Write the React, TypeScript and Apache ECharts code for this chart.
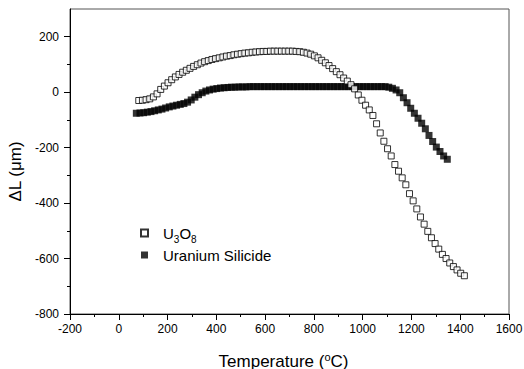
import React, { useEffect, useRef } from "react";
import * as echarts from "echarts";

const uTemp = [
  82, 97, 112, 127, 142, 157, 172, 187, 202, 217,
  232, 247, 262, 277, 292, 307, 322, 337, 352, 367,
  382, 397, 412, 427, 442, 457, 472, 487, 502, 517,
  532, 547, 562, 577, 592, 607, 622, 637, 652, 667,
  682, 697, 712, 727, 742, 757, 772, 787, 802, 817,
  832, 847, 862, 877, 892, 907, 922, 937, 952, 967,
  982, 997, 1012, 1027, 1042, 1057, 1072, 1087, 1102, 1117,
  1132, 1147, 1162, 1177, 1192, 1207, 1222, 1237, 1252, 1267,
  1282, 1297, 1312, 1327, 1342, 1357, 1372, 1387, 1402, 1417,
];
const uDL = [
  -30, -29, -27, -24, -17, -6, 10, 22, 34, 45,
  55, 64, 72, 79, 86, 93, 99, 105, 110, 114,
  118, 121, 124, 127, 130, 132, 135, 137, 139, 141,
  142, 144, 145, 146, 147, 147, 148, 148, 148, 148,
  148, 148, 148, 147, 146, 144, 141, 137, 131, 124,
  115, 106, 96, 85, 74, 63, 51, 40, 27, 12,
  -10, -29, -47, -64, -84, -114, -147, -177, -204, -230,
  -261, -285, -309, -334, -366, -392, -421, -450, -476, -502,
  -525, -546, -566, -585, -600, -616, -629, -641, -653, -662,
];
const sTemp = [
  72, 87, 102, 117, 132, 147, 162, 177, 192, 207,
  222, 237, 252, 267, 282, 297, 312, 327, 342, 357,
  372, 387, 402, 417, 432, 447, 462, 477, 492, 507,
  522, 537, 552, 567, 582, 597, 612, 627, 642, 657,
  672, 687, 702, 717, 732, 747, 762, 777, 792, 807,
  822, 837, 852, 867, 882, 897, 912, 927, 942, 957,
  972, 987, 1002, 1017, 1032, 1047, 1062, 1077, 1092, 1107,
  1122, 1137, 1152, 1167, 1182, 1197, 1212, 1227, 1242, 1257,
  1272, 1287, 1302, 1317, 1332, 1347,
];
const sDL = [
  -76, -75, -74, -72, -70, -67, -64, -61, -57, -53,
  -50, -47, -44, -41, -36, -28, -18, -9, -2, 4,
  8, 11, 13, 15, 16, 17, 18, 18, 19, 19,
  19, 20, 20, 20, 20, 20, 20, 20, 20, 20,
  20, 20, 20, 20, 20, 20, 20, 20, 20, 20,
  20, 20, 20, 20, 20, 20, 20, 20, 20, 20,
  20, 20, 20, 20, 20, 20, 20, 20, 20, 18,
  14, 8, -2, -20, -38, -58, -76, -94, -112, -132,
  -156, -178, -198, -214, -230, -242,
];
const yMajorTicks = [-800, -600, -400, -200, 0, 200];
const seriesNames = ["U3O8", "Uranium Silicide"];

const FONT = '"Liberation Sans", Arial, sans-serif';

export default function App() {
  const ref = useRef<HTMLDivElement>(null);
  useEffect(() => {
    if (!ref.current) return;
    const chart = echarts.init(ref.current, null, { renderer: "svg" });
    chart.setOption({
      animation: false,
      backgroundColor: "#fff",
      grid: {
        left: 70,
        right: 15,
        top: 9,
        bottom: 55,
        outerBoundsMode: "none",
        show: true,
        borderColor: "#555",
        borderWidth: 1,
      },
      legend: {
        orient: "vertical",
        left: 135,
        top: 217,
        itemWidth: 7,
        itemHeight: 7,
        itemGap: 2,
        icon: "rect",
        data: seriesNames,
        formatter: (name: string) =>
          name === "U3O8" ? "U{sub|3}O{sub|8}" : name,
        textStyle: {
          fontFamily: FONT,
          fontSize: 15,
          color: "#000",
          lineHeight: 18,
          padding: [0, 0, 0, 10],
          rich: {
            sub: {
              fontFamily: FONT,
              fontSize: 10,
              color: "#000",
              lineHeight: 10,
              padding: [12, 0, 0, 0],
            },
          },
        },
      },
      xAxis: {
        type: "value",
        min: -200,
        max: 1600,
        interval: 200,
        name: "Temperature ({sup|o}C)",
        nameLocation: "middle",
        nameGap: 37,
        nameTextStyle: {
          fontFamily: FONT,
          fontSize: 17,
          color: "#000",
          lineHeight: 20,
          padding: [0, 12, 0, 0],
          rich: {
            sup: {
              fontFamily: FONT,
              fontSize: 11,
              color: "#000",
              lineHeight: 20,
              verticalAlign: "top",
            },
          },
        },
        axisLine: { show: true, onZero: false, lineStyle: { color: "#000", width: 1 } },
        axisTick: { show: true, inside: false, length: 6, lineStyle: { color: "#000", width: 1 } },
        minorTick: { show: true, splitNumber: 2, length: 3, lineStyle: { color: "#000", width: 1 } },
        axisLabel: {
          fontFamily: FONT,
          fontSize: 12,
          color: "#000",
          margin: 9,
          formatter: (v: number) => String(v),
        },
        splitLine: { show: false },
        minorSplitLine: { show: false },
      },
      yAxis: {
        type: "value",
        min: -800,
        max: 300,
        interval: 200,
        position: "left",
        name: "ΔL (μm)",
        nameLocation: "middle",
        nameGap: 41,
        nameTextStyle: {
          fontFamily: FONT,
          fontSize: 17,
          color: "#000",
          padding: [0, 20, 0, 0],
        },
        axisLine: { show: true, onZero: false, lineStyle: { color: "#000", width: 1 } },
        axisTick: {
          show: true,
          inside: false,
          length: 6,
          customValues: yMajorTicks,
          lineStyle: { color: "#000", width: 1 },
        },
        minorTick: { show: true, splitNumber: 2, length: 3, lineStyle: { color: "#000", width: 1 } },
        axisLabel: {
          fontFamily: FONT,
          fontSize: 12,
          color: "#000",
          margin: 11,
          customValues: yMajorTicks,
          formatter: (v: number) => String(v),
        },
        splitLine: { show: false },
        minorSplitLine: { show: false },
      },
      series: [
        {
          name: seriesNames[0],
          type: "scatter",
          symbol: "rect",
          symbolSize: 6,
          itemStyle: { color: "#fff", borderColor: "#000", borderWidth: 1 },
          data: uTemp.map((t, i) => [t, uDL[i]]),
          z: 3,
        },
        {
          name: seriesNames[1],
          type: "scatter",
          symbol: "rect",
          symbolSize: 7,
          itemStyle: { color: "#000" },
          data: sTemp.map((t, i) => [t, sDL[i]]),
          z: 2,
        },
      ],
    });
    return () => chart.dispose();
  }, []);
  return (
    <div
      ref={ref}
      style={{ position: "absolute", left: 0, top: 0, width: 524, height: 369 }}
    />
  );
}
